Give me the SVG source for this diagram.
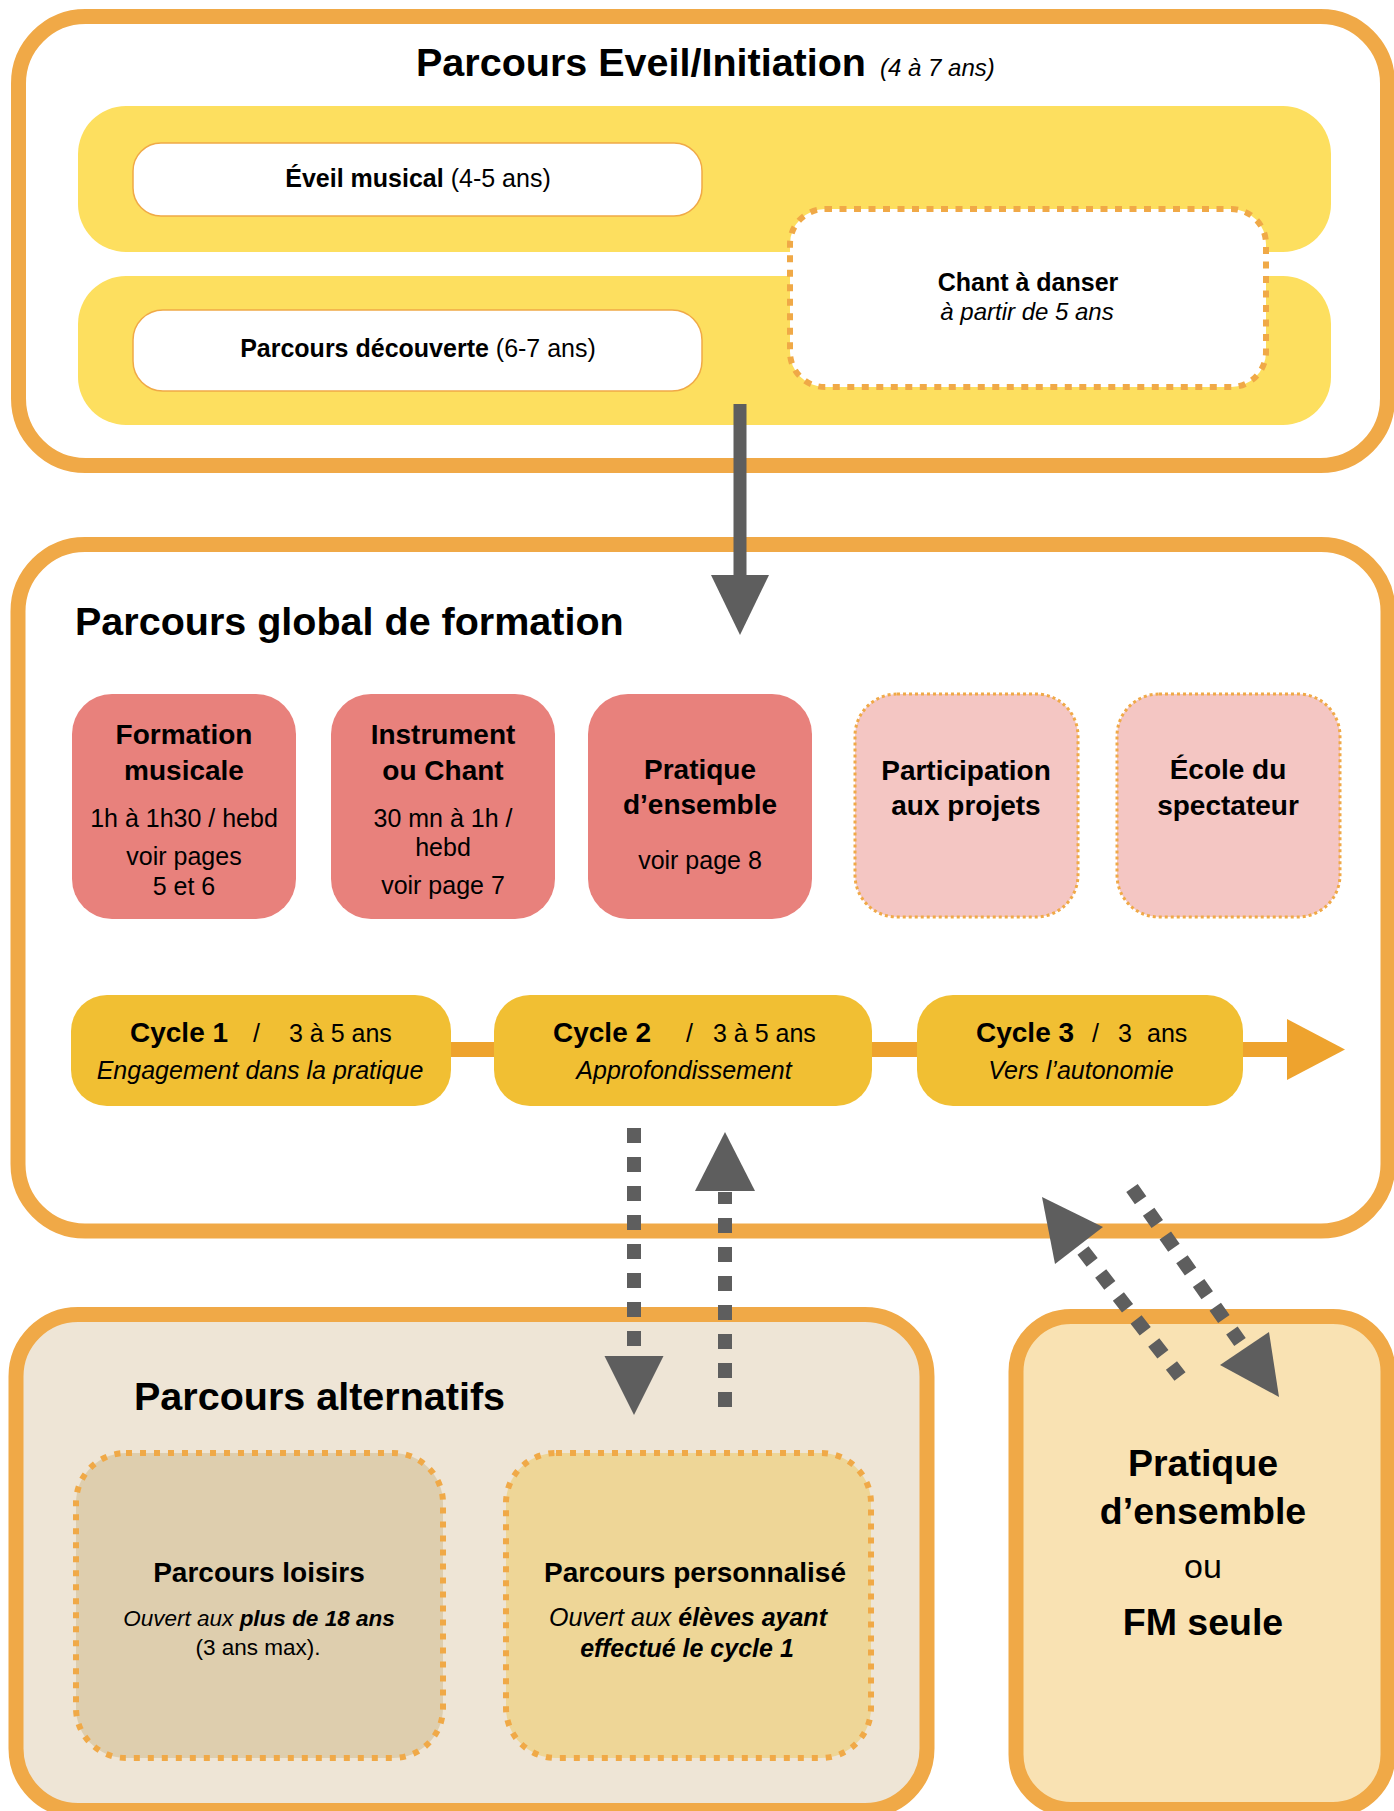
<svg xmlns="http://www.w3.org/2000/svg" width="1394" height="1811" viewBox="0 0 1394 1811">
<style>
text{font-family:"Liberation Sans",Arial,Helvetica,sans-serif;fill:#000}
.b{font-weight:bold}
.i{font-style:italic}
.m{text-anchor:middle}
.frame{stroke:#F0A947;stroke-width:15}
.pill{fill:#fff;stroke:#F0A947;stroke-width:1.5}
.red{fill:#E8817C}
.pink{fill:#F4C6C3;stroke:#F0A947;stroke-width:3;stroke-dasharray:3 3}
.cyc{fill:#F1BF33}
.dot{stroke:#F0A947;stroke-width:6;stroke-dasharray:6 8}
.grey{fill:#5E5E5E}
.dash{stroke:#5E5E5E;stroke-width:14;stroke-dasharray:15 14;fill:none}
.t28{font-size:28px}
.t25{font-size:25px}
</style>

<!-- containers -->
<g id="eveil">
  <rect class="frame" x="18.5" y="16.5" width="1369" height="449" rx="67" fill="#fff"/>
  <rect x="78" y="106" width="1253" height="146" rx="48" fill="#FDDF5F"/>
  <rect x="78" y="276" width="1253" height="149" rx="48" fill="#FDDF5F"/>
  <text x="416" y="76" class="b" font-size="39.5">Parcours Eveil/Initiation</text>
  <text x="880" y="76" class="i" font-size="24">(4 à 7 ans)</text>
</g>
<g id="global">
  <rect class="frame" x="18" y="544.5" width="1370" height="686.5" rx="67" fill="#fff"/>
  <text x="75" y="635" class="b" font-size="39.5">Parcours global de formation</text>
</g>
<g id="alternatifs">
  <rect class="frame" x="16" y="1314.5" width="911" height="496" rx="62" fill="#EEE5D6"/>
  <text x="134" y="1410" class="b" font-size="39.5">Parcours alternatifs</text>
</g>
<g id="pratique-fm">
  <rect class="frame" x="1016" y="1316.5" width="372" height="493" rx="55" fill="#F9E2B3"/>
  <text x="1203" y="1476" class="b m" font-size="37.5">Pratique</text>
  <text x="1203" y="1524" class="b m" font-size="37.5">d’ensemble</text>
  <text x="1203" y="1578" class="m" font-size="34">ou</text>
  <text x="1203" y="1635" class="b m" font-size="37.5">FM seule</text>
</g>

<!-- connectors -->
<g id="connectors">
  <line x1="740" y1="404" x2="740" y2="577" stroke="#5E5E5E" stroke-width="13"/>
  <polygon class="grey" points="711,575 769,575 740,635"/>
  <line x1="440" y1="1049.5" x2="1290" y2="1049.5" stroke="#EEA32E" stroke-width="15"/>
  <polygon points="1287,1019 1287,1080 1345,1049.5" fill="#EEA32E"/>
  <line class="dash" x1="634" y1="1128" x2="634" y2="1357"/>
  <polygon class="grey" points="604.5,1356 663.5,1356 634,1415"/>
  <line class="dash" x1="725" y1="1407" x2="725" y2="1192"/>
  <polygon class="grey" points="695,1191 755,1191 725,1132"/>
  <line class="dash" x1="1083" y1="1250.5" x2="1180" y2="1376.5"/>
  <polygon class="grey" points="1042,1197 1055,1264 1103,1227"/>
  <line class="dash" x1="1132" y1="1188" x2="1240" y2="1342"/>
  <polygon class="grey" points="1279,1397 1220,1365 1269,1332"/>
</g>

<!-- nodes -->
<g id="eveil-musical">
  <rect class="pill" x="133" y="143" width="569" height="73" rx="28"/>
  <text x="418" y="187" class="m t25"><tspan class="b">Éveil musical</tspan> (4-5 ans)</text>
</g>
<g id="parcours-decouverte">
  <rect class="pill" x="133" y="310" width="569" height="81" rx="30"/>
  <text x="418" y="357" class="m t25"><tspan class="b">Parcours découverte</tspan> (6-7 ans)</text>
</g>
<g id="chant-a-danser">
  <rect x="790" y="209" width="476" height="178" rx="35" fill="#fff" stroke="#F0A947" stroke-width="6" stroke-dasharray="7 7.5"/>
  <text x="1028" y="291" class="b m t25">Chant à danser</text>
  <text x="1027" y="320" class="i m" font-size="24">à partir de 5 ans</text>
</g>

<g id="formation-musicale">
  <rect class="red" x="72" y="694" width="224" height="225" rx="40"/>
  <text x="184" y="744" class="b m t28">Formation</text>
  <text x="184" y="780" class="b m t28">musicale</text>
  <text x="184" y="827" class="m t25">1h à 1h30 / hebd</text>
  <text x="184" y="865" class="m t25">voir pages</text>
  <text x="184" y="895" class="m t25">5 et 6</text>
</g>
<g id="instrument-chant">
  <rect class="red" x="331" y="694" width="224" height="225" rx="40"/>
  <text x="443" y="744" class="b m t28">Instrument</text>
  <text x="443" y="780" class="b m t28">ou Chant</text>
  <text x="443" y="827" class="m t25">30 mn à 1h /</text>
  <text x="443" y="856" class="m t25">hebd</text>
  <text x="443" y="894" class="m t25">voir page 7</text>
</g>
<g id="pratique-ensemble">
  <rect class="red" x="588" y="694" width="224" height="225" rx="40"/>
  <text x="700" y="779" class="b m t28">Pratique</text>
  <text x="700" y="814" class="b m t28">d’ensemble</text>
  <text x="700" y="869" class="m t25">voir page 8</text>
</g>
<g id="participation-projets">
  <rect class="pink" x="855" y="694" width="223" height="223" rx="42"/>
  <text x="966" y="780" class="b m t28">Participation</text>
  <text x="966" y="815" class="b m t28">aux projets</text>
</g>
<g id="ecole-spectateur">
  <rect class="pink" x="1117" y="694" width="223" height="223" rx="42"/>
  <text x="1228" y="779" class="b m t28">École du</text>
  <text x="1228" y="815" class="b m t28">spectateur</text>
</g>

<g id="cycle1">
  <rect class="cyc" x="71" y="995" width="380" height="111" rx="36"/>
  <text y="1042" class="t25"><tspan x="130" class="b t28">Cycle 1</tspan><tspan x="253">/</tspan><tspan x="289">3 à 5 ans</tspan></text>
  <text x="260" y="1079" class="i m t25">Engagement dans la pratique</text>
</g>
<g id="cycle2">
  <rect class="cyc" x="494" y="995" width="378" height="111" rx="36"/>
  <text y="1042" class="t25"><tspan x="553" class="b t28">Cycle 2</tspan><tspan x="686">/</tspan><tspan x="713">3 à 5 ans</tspan></text>
  <text x="684" y="1079" class="i m t25">Approfondissement</text>
</g>
<g id="cycle3">
  <rect class="cyc" x="917" y="995" width="326" height="111" rx="36"/>
  <text y="1042" class="t25"><tspan x="976" class="b t28">Cycle 3</tspan><tspan x="1092">/</tspan><tspan x="1118">3</tspan><tspan x="1147">ans</tspan></text>
  <text x="1081" y="1079" class="i m t25">Vers l’autonomie</text>
</g>

<g id="parcours-loisirs">
  <rect class="dot" x="76" y="1453" width="367" height="305" rx="50" fill="#DECEAE"/>
  <text x="259" y="1582" class="b m t28">Parcours loisirs</text>
  <text x="259" y="1626" class="i m" font-size="22.5">Ouvert aux <tspan class="b">plus de 18 ans</tspan></text>
  <text x="258" y="1655" class="m" font-size="22.5">(3 ans max).</text>
</g>
<g id="parcours-personnalise">
  <rect class="dot" x="506" y="1453" width="365" height="305" rx="50" fill="#EED697"/>
  <text x="695" y="1582" class="b m t28">Parcours personnalisé</text>
  <text x="688" y="1626" class="i m" font-size="25">Ouvert aux <tspan class="b">élèves ayant</tspan></text>
  <text x="687" y="1657" class="i b m" font-size="25">effectué le cycle 1</text>
</g>
</svg>
